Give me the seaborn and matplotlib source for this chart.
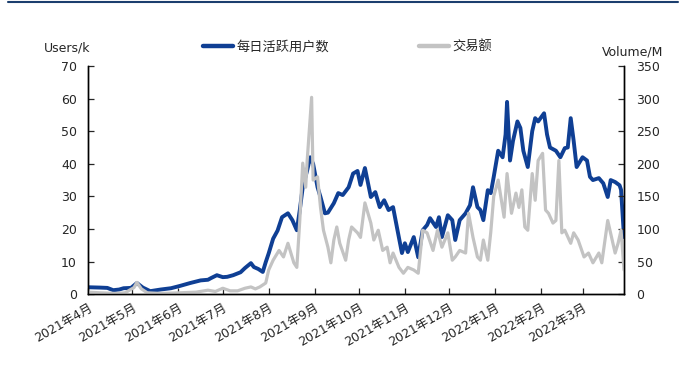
"""Daily active users vs trading volume, Apr 2021 - Mar 2022 (dual axis)."""

import matplotlib

matplotlib.use("Agg")

import matplotlib.pyplot as plt
import pandas as pd
import seaborn as sns
from matplotlib.lines import Line2D

USERS_LABEL = "每日活跃用户数"
VOLUME_LABEL = "交易额"

USERS_DATES = [
    "2021-04-01", "2021-04-09", "2021-04-14", "2021-04-18", "2021-04-22",
    "2021-04-25", "2021-04-30", "2021-05-04", "2021-05-08", "2021-05-13",
    "2021-05-20", "2021-05-27", "2021-06-02", "2021-06-09", "2021-06-16",
    "2021-06-21", "2021-06-23", "2021-06-27", "2021-07-01", "2021-07-04",
    "2021-07-08", "2021-07-13", "2021-07-16", "2021-07-20", "2021-07-22",
    "2021-07-25", "2021-07-28", "2021-07-30", "2021-08-01", "2021-08-04",
    "2021-08-07", "2021-08-10", "2021-08-14", "2021-08-17", "2021-08-20",
    "2021-08-22", "2021-08-24", "2021-08-27", "2021-08-29", "2021-08-31",
    "2021-09-03", "2021-09-05", "2021-09-08", "2021-09-10", "2021-09-14",
    "2021-09-17", "2021-09-20", "2021-09-24", "2021-09-27", "2021-09-30",
    "2021-10-02", "2021-10-05", "2021-10-09", "2021-10-12", "2021-10-15",
    "2021-10-18", "2021-10-21", "2021-10-24", "2021-10-27", "2021-10-30",
    "2021-11-01", "2021-11-03", "2021-11-07", "2021-11-10", "2021-11-13",
    "2021-11-16", "2021-11-18", "2021-11-22", "2021-11-24", "2021-11-26",
    "2021-11-30", "2021-12-03", "2021-12-05", "2021-12-08", "2021-12-12",
    "2021-12-15", "2021-12-17", "2021-12-20", "2021-12-22", "2021-12-24",
    "2021-12-27", "2021-12-29", "2021-12-31", "2022-01-03", "2022-01-06",
    "2022-01-08", "2022-01-09", "2022-01-11", "2022-01-13", "2022-01-16",
    "2022-01-18", "2022-01-20", "2022-01-23", "2022-01-26", "2022-01-28",
    "2022-01-30", "2022-02-03", "2022-02-05", "2022-02-07", "2022-02-11",
    "2022-02-14", "2022-02-17", "2022-02-19", "2022-02-21", "2022-02-23",
    "2022-02-25", "2022-03-01", "2022-03-04", "2022-03-06", "2022-03-08",
    "2022-03-12", "2022-03-15", "2022-03-18", "2022-03-20", "2022-03-23",
    "2022-03-26", "2022-03-27", "2022-03-29",
]
USERS_K = [
    2.1, 2.0, 1.9, 1.2, 1.4,
    1.8, 1.9, 3.4, 2.0, 0.9,
    1.4, 1.8, 2.5, 3.4, 4.2,
    4.4, 4.9, 5.8, 5.2, 5.3,
    5.8, 6.7, 8.0, 9.5, 8.3,
    7.7, 6.8, 9.8, 12.5, 17.0,
    19.5, 23.6, 24.8, 22.7, 19.6,
    25.8, 32.8, 38.0, 42.0, 40.0,
    32.8, 29.8, 24.8, 25.0, 27.9,
    31.0, 30.4, 32.8, 37.0, 37.8,
    33.5, 38.7, 29.8, 31.3, 26.7,
    28.8, 25.8, 26.7, 19.6, 12.6,
    15.6, 12.9, 17.5, 11.3, 19.6,
    21.2, 23.3, 20.6, 23.6, 17.5,
    24.2, 22.7, 16.6, 22.7, 24.8,
    27.3, 32.8, 26.7, 25.8, 22.7,
    31.9, 31.0, 36.0, 44.0, 42.0,
    49.0, 59.0, 41.0, 47.0, 53.0,
    51.0, 44.0, 39.0, 50.0, 54.0,
    53.0, 55.5, 49.0, 45.0, 44.0,
    42.0, 44.8, 45.0, 54.0, 47.0,
    39.0, 42.0, 41.0, 36.0, 35.0,
    35.6, 34.0, 29.8, 35.0, 34.4,
    33.4, 32.0, 17.5,
]

VOLUME_DATES = [
    "2021-04-01", "2021-04-09", "2021-04-20", "2021-04-26", "2021-05-02",
    "2021-05-04", "2021-05-07", "2021-05-11", "2021-05-20", "2021-06-02",
    "2021-06-13", "2021-06-21", "2021-06-26", "2021-07-01", "2021-07-06",
    "2021-07-11", "2021-07-16", "2021-07-20", "2021-07-23", "2021-07-26",
    "2021-07-30", "2021-08-01", "2021-08-04", "2021-08-08", "2021-08-11",
    "2021-08-14", "2021-08-18", "2021-08-20", "2021-08-22", "2021-08-24",
    "2021-08-26", "2021-08-27", "2021-08-30", "2021-08-31", "2021-09-03",
    "2021-09-05", "2021-09-07", "2021-09-10", "2021-09-12", "2021-09-14",
    "2021-09-16", "2021-09-18", "2021-09-22", "2021-09-24", "2021-09-26",
    "2021-09-30", "2021-10-02", "2021-10-05", "2021-10-09", "2021-10-11",
    "2021-10-14", "2021-10-17", "2021-10-20", "2021-10-22", "2021-10-24",
    "2021-10-28", "2021-10-31", "2021-11-03", "2021-11-07", "2021-11-10",
    "2021-11-13", "2021-11-16", "2021-11-20", "2021-11-23", "2021-11-26",
    "2021-11-30", "2021-12-03", "2021-12-05", "2021-12-08", "2021-12-12",
    "2021-12-14", "2021-12-17", "2021-12-20", "2021-12-22", "2021-12-24",
    "2021-12-27", "2021-12-29", "2021-12-31", "2022-01-03", "2022-01-07",
    "2022-01-09", "2022-01-12", "2022-01-15", "2022-01-17", "2022-01-19",
    "2022-01-21", "2022-01-23", "2022-01-26", "2022-01-28", "2022-01-30",
    "2022-02-02", "2022-02-04", "2022-02-06", "2022-02-09", "2022-02-11",
    "2022-02-13", "2022-02-15", "2022-02-17", "2022-02-21", "2022-02-23",
    "2022-02-26", "2022-03-02", "2022-03-05", "2022-03-08", "2022-03-12",
    "2022-03-14", "2022-03-18", "2022-03-21", "2022-03-23", "2022-03-25",
    "2022-03-27", "2022-03-29",
]
VOLUME_M = [
    3, 2, 1, 2, 10,
    18, 8, 2, 1, 2,
    3, 6, 4, 9, 5,
    5, 9, 11, 8, 11,
    17, 37, 52, 67, 57,
    78, 48, 41, 113, 201,
    164, 205, 302, 175, 180,
    133, 98, 72, 48, 83,
    103, 78, 52, 83, 103,
    94, 87, 140, 109, 83,
    98, 67, 72, 48, 63,
    41, 32, 41, 37, 32,
    98, 94, 67, 98, 72,
    94, 52, 57, 67, 63,
    124, 87, 57, 52, 83,
    52, 95, 150, 175, 118,
    185, 124, 155, 133, 160,
    103, 98, 185, 144, 205,
    216, 129, 124, 109, 113,
    205, 94, 98, 78, 94,
    83, 57, 63, 48, 63,
    48, 113, 83, 63, 78,
    98, 37,
]

MONTH_TICKS = pd.date_range("2021-04-01", "2022-03-01", freq="MS")
MONTH_LABELS = [f"{d.year}年{d.month}月" for d in MONTH_TICKS]

BLUE = "#0f3f94"
GRAY = "#c3c3c3"
FONT = ["DejaVu Sans", "Noto Sans CJK SC"]


def main() -> None:
    sns.set_style("ticks")
    plt.rcParams["font.family"] = FONT
    plt.rcParams["font.size"] = 9

    users = pd.DataFrame({"date": pd.to_datetime(USERS_DATES), "users": USERS_K})
    volume = pd.DataFrame({"date": pd.to_datetime(VOLUME_DATES), "volume": VOLUME_M})

    fig = plt.figure(figsize=(6.88, 3.69), dpi=100)
    ax = fig.add_axes([0.128, 0.203, 0.779, 0.618])
    ax2 = ax.twinx()

    sns.lineplot(data=users, x="date", y="users", ax=ax, color=BLUE,
                 linewidth=2.8, legend=False)
    sns.lineplot(data=volume, x="date", y="volume", ax=ax2, color=GRAY,
                 linewidth=2.3, legend=False)

    ax.set_xlim(users["date"].iloc[0], users["date"].iloc[-1])
    ax.set_ylim(0, 70)
    ax2.set_ylim(0, 350)
    ax.set_yticks(range(0, 71, 10))
    ax2.set_yticks(range(0, 351, 50))
    ax.set_xticks(MONTH_TICKS)
    ax.set_xticklabels(MONTH_LABELS, rotation=30, ha="right",
                       rotation_mode="anchor")

    for a in (ax, ax2):
        a.set_xlabel("")
        a.set_ylabel("")
        a.spines["top"].set_visible(False)
        for side in ("left", "right", "bottom"):
            a.spines[side].set_linewidth(1.0)
            a.spines[side].set_color("#000000")
    ax.tick_params(axis="y", direction="in", length=4, width=0.9, pad=8,
                   labelsize=9)
    ax2.tick_params(axis="y", direction="in", length=4, width=0.9, pad=9,
                    labelsize=9)
    ax.tick_params(axis="x", direction="in", length=4, width=0.9, pad=5,
                   labelsize=9)

    fig.text(0.098, 0.870, "Users/k", ha="center", va="center", fontsize=9)
    fig.text(0.919, 0.859, "Volume/M", ha="center", va="center", fontsize=9)

    handles = [
        Line2D([], [], color=BLUE, linewidth=3.2),
        Line2D([], [], color=GRAY, linewidth=3.2),
    ]
    fig.legend(handles, [USERS_LABEL, VOLUME_LABEL], loc="center",
               bbox_to_anchor=(0.505, 0.873), ncol=2, frameon=False,
               fontsize=9.5, handlelength=2.3, handletextpad=0.25,
               columnspacing=6.8)

    fig.add_artist(Line2D([0.012, 0.986], [0.995, 0.995], color="#1b3e6e",
                          linewidth=1.5, transform=fig.transFigure))

    fig.savefig("out.png", dpi=100)
    plt.close(fig)


if __name__ == "__main__":
    main()
